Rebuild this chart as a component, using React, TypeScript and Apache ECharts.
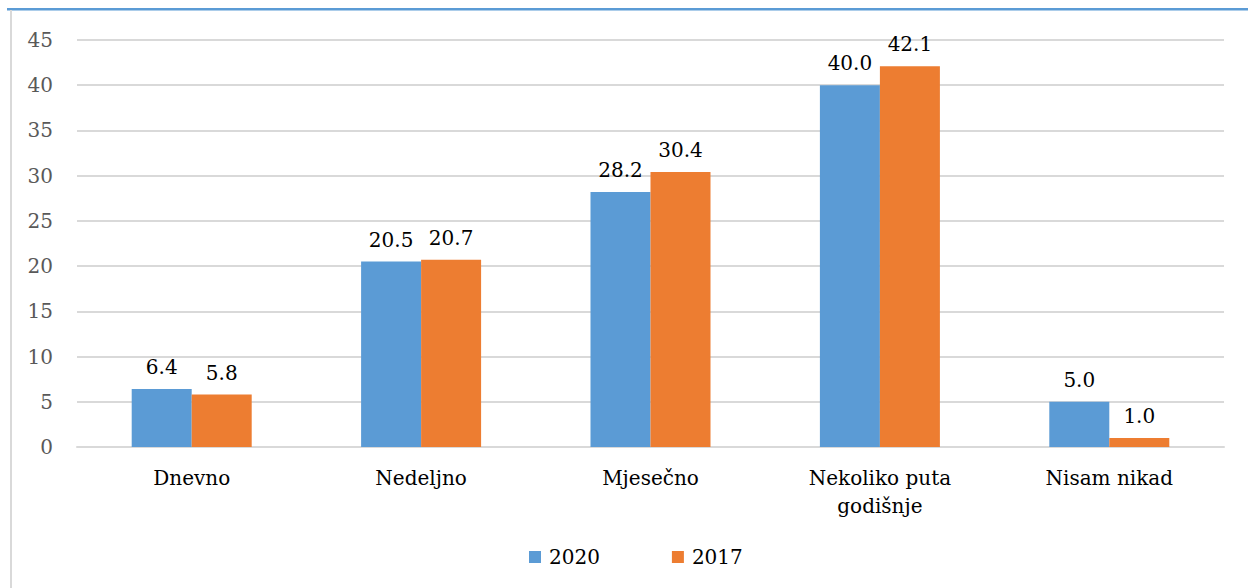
import React, { useEffect, useRef } from "react";
import * as echarts from "echarts";

const categories = ["Dnevno", "Nedeljno", "Mjesečno", "Nekoliko puta\ngodišnje", "Nisam nikad"];
const series2020 = [6.4, 20.5, 28.2, 40.0, 5.0];
const series2017 = [5.8, 20.7, 30.4, 42.1, 1.0];
const yTicks = { min: 0, max: 45, interval: 5 };

const FONT = "DejaVu Serif";
const FS = 20;

export default function App() {
  const ref = useRef<HTMLDivElement>(null);
  useEffect(() => {
    document.body.style.margin = "0";
    const chart = echarts.init(ref.current!, undefined, { renderer: "svg" });
    const label = {
      show: true,
      position: "top",
      distance: 12,
      color: "#000",
      fontFamily: FONT,
      fontSize: FS,
      formatter: (p: any) => Number(p.value).toFixed(1),
    };
    chart.setOption({
      animation: false,
      backgroundColor: "#fff",
      textStyle: { fontFamily: FONT },
      graphic: [
        { type: "rect", shape: { x: 7, y: 8, width: 1241, height: 2.5 }, style: { fill: "#5B9BD5" }, silent: true },
        { type: "rect", shape: { x: 10, y: 10, width: 2, height: 578 }, style: { fill: "#D9D9D9" }, silent: true },
      ],
      grid: { left: 77, right: 24, top: 40, bottom: 141, containLabel: false },
      legend: {
        bottom: 16,
        left: 524,
        itemWidth: 12,
        itemHeight: 12,
        itemGap: 72,
        icon: "rect",
        textStyle: { fontFamily: FONT, fontSize: FS, color: "#000", padding: [0, 0, 0, 3] },
        data: ["2020", "2017"],
      },
      xAxis: {
        type: "category",
        data: categories,
        axisLine: { lineStyle: { color: "#D9D9D9", width: 2 } },
        axisTick: { show: false },
        axisLabel: { color: "#000", fontFamily: FONT, fontSize: FS, margin: 17, lineHeight: 28, interval: 0 },
      },
      yAxis: {
        type: "value",
        min: yTicks.min,
        max: yTicks.max,
        interval: yTicks.interval,
        axisLine: { show: false },
        axisTick: { show: false },
        axisLabel: { color: "#595959", fontFamily: FONT, fontSize: FS, margin: 24 },
        splitLine: { lineStyle: { color: "#D9D9D9", width: 2 } },
      },
      series: [
        {
          name: "2020",
          type: "bar",
          data: series2020,
          barWidth: 60,
          barGap: "0%",
          itemStyle: { color: "#5B9BD5" },
          label,
        },
        {
          name: "2017",
          type: "bar",
          data: series2017,
          barWidth: 60,
          barGap: "0%",
          itemStyle: { color: "#ED7D31" },
          label,
        },
      ],
    });
    return () => chart.dispose();
  }, []);
  return <div ref={ref} style={{ position: "absolute", left: 0, top: 0, width: 1248, height: 588 }} />;
}
